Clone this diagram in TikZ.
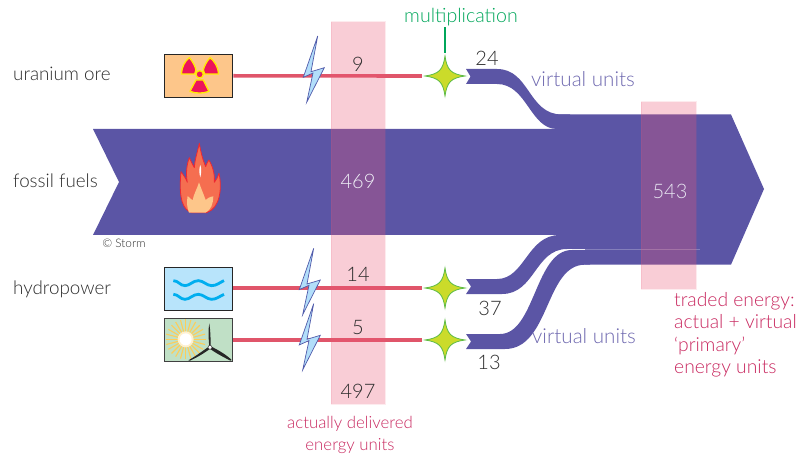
\documentclass[tikz,border=0pt]{standalone}
\usepackage{fontspec}
\setmainfont{Lato}[UprightFont=* Light]
\usetikzlibrary{calc}
\definecolor{flow}{RGB}{91,85,165}
\definecolor{colpink}{RGB}{235,88,118}
\definecolor{redline}{RGB}{224,85,106}
\definecolor{crim}{RGB}{200,40,95}
\definecolor{virt}{RGB}{110,104,175}
\definecolor{txt}{RGB}{45,45,45}
\definecolor{multgreen}{RGB}{0,166,90}
\definecolor{starfill}{RGB}{203,219,42}
\definecolor{starline}{RGB}{93,187,70}
\definecolor{boltfill}{RGB}{178,222,250}
\definecolor{boltline}{RGB}{80,90,170}
\definecolor{radbg}{RGB}{253,198,138}
\definecolor{radred}{RGB}{237,20,91}
\definecolor{radyel}{RGB}{255,236,0}
\definecolor{waterbg}{RGB}{184,228,251}
\definecolor{waterln}{RGB}{0,174,239}
\definecolor{windbg}{RGB}{192,224,198}
\definecolor{sunray}{RGB}{253,205,90}
\definecolor{flamecolor}{RGB}{245,110,80}
\definecolor{flameline}{RGB}{237,40,50}
\tikzset{
 lab/.style={font=\fontsize{18.8}{22}\selectfont,text=txt,inner sep=0pt},
 num/.style={font=\fontsize{20}{22}\selectfont,text=txt,inner sep=0pt},
 virtlab/.style={font=\fontsize{20.6}{23}\selectfont,text=virt,inner sep=0pt},
 crimlab/.style={font=\fontsize{16.8}{22}\selectfont,text=crim,inner sep=0pt},
 crimright/.style={font=\fontsize{19.3}{22.4}\selectfont,text=crim,inner sep=0pt},
 iconbox/.style={draw=black!85,line width=1.2pt,minimum width=68pt,minimum height=43pt,inner sep=0pt},
 anchorstar/.style={circle,minimum size=46pt,inner sep=0pt},
 feed/.style={draw=redline,line width=3.6pt},
 column/.style={fill=colpink,fill opacity=.3,draw=colpink,draw opacity=.12,line width=1pt},
 fourstar/.pic={\filldraw[fill=starfill,draw=starline,line width=.8pt]
   (0,-20) .. controls (2,-6) and (6,-2) .. (20,0)
   .. controls (6,2) and (2,6) .. (0,20)
   .. controls (-2,6) and (-6,2) .. (-20,0)
   .. controls (-6,-2) and (-2,-6) .. (0,-20) -- cycle;},
 boltshape/.pic={\filldraw[fill=boltfill,draw=boltline,line width=.7pt,line join=miter]
   (0,0) -- (-14.4,41.3) -- (-4.7,37) -- (-11,66.3) -- (6.6,31.7) -- (-6.7,35.7) -- cycle;},
}
\begin{document}
\begin{tikzpicture}[x=1pt,y=-1pt]
\useasboundingbox (0,0) rectangle (798,457);
% flows
\fill[flow] (93,129) -- (600,129) -- (600,235) -- (93,235) -- (119,182) -- cycle;
\fill[flow] (555,114.5) -- (731,114.5) -- (764,189) -- (731,264.7) -- (585,264.7) -- (585,235) -- (555,235) -- cycle;
\fill[flow] (466,69) -- (497,69) .. controls (530,69) and (528,114.5) .. (562,114.5) -- (570,114.5) -- (570,129)
   -- (557,129) .. controls (530,129) and (527,84) .. (497,84) -- (466,84) -- (470.5,76.5) -- cycle;
\fill[flow] (466,279) -- (497,279) .. controls (525,279) and (527,235) .. (560,235) -- (590,235) -- (590,249)
   -- (567,249) .. controls (535,249) and (535,294) .. (502,294) -- (466,294) -- (471,286.5) -- cycle;
\fill[flow] (466,334) -- (500,334) .. controls (535,334) and (535,250) .. (572,250) -- (590,250) -- (590,264.7)
   -- (585,264.7) .. controls (545,264.7) and (550,349) .. (505,349) -- (466,349) -- (471,341.5) -- cycle;
\draw[white,opacity=.25,line width=.7pt] (568,249.5) -- (700,249.5);
% icons
\node[iconbox,fill=radbg] (ura) at (198.7,75.8) {};
\node[iconbox,fill=waterbg] (hyd) at (198.7,289) {};
\node[iconbox,fill=windbg,draw=black!75] (win) at (198.7,339.7) {};
% multipliers
\node[anchorstar] (s1) at (445,76) {};
\node[anchorstar] (s2) at (445,288) {};
\node[anchorstar] (s3) at (445,340) {};
% feed lines
\draw[feed] (ura.east) -- (s1.west);
\draw[feed] (hyd.east |- s2) -- (s2.west);
\draw[feed] (win.east |- s3) -- (s3.west);
\pic at (s1) {fourstar};
\pic at (s2) {fourstar};
\pic at (s3) {fourstar};
% bolts
\pic at (317.7,36) {boltshape};
\pic at (313.7,248.3) {boltshape};
\pic at (313.7,303.6) {boltshape};
% radiation symbol
\begin{scope}[shift={(150,20)},x=.3333pt,y=-.3333pt]
 \begin{scope}[fill=radred,draw=radyel,line width=1.3pt,line join=round]
 \filldraw (94,162) .. controls (96,140) and (104,124) .. (118,113)
    .. controls (128,124) and (136,140) .. (138,150) -- (134,162) -- cycle;
 \filldraw (206,162) .. controls (204,140) and (194,124) .. (180,113)
    .. controls (170,124) and (162,140) .. (160,150) -- (164,162) -- cycle;
 \filldraw (120,214) .. controls (138,221) and (158,221) .. (177,214) -- (160,180) -- (138,180) -- cycle;
 \filldraw (149,163) circle[radius=11];
 \end{scope}
\end{scope}
% waves
\begin{scope}[shift={(150,240)},x=.3333pt,y=-.3333pt]
 \foreach \dy in {0,41}{
 \draw[waterln,line width=2.8pt,shift={(0,\dy)}] (70,122) .. controls (85,122) and (90,137) .. (105,137)
   .. controls (120,137) and (128,122) .. (145,122)
   .. controls (160,122) and (170,137) .. (185,137)
   .. controls (200,137) and (210,127) .. (222,122);}
 % wind and sun
 \foreach \a in {0,15,...,345}{
   \draw[sunray,line width=1.1pt] (107,298) ++(\a:14) -- ++(\a:46);}
 \fill[white!70!sunray] (107,298) circle[radius=24];
 \fill[white] (107,298) circle[radius=18];
 \fill[black!85] (178,322) .. controls (175,290) and (175,265) .. (178,250) .. controls (181,270) and (182,295) .. (182,322) -- cycle;
 \fill[black!85] (178,319) .. controls (155,335) and (135,350) .. (115,361) -- (120,362) .. controls (142,352) and (165,338) .. (182,325) -- cycle;
 \fill[black!85] (182,319) .. controls (205,330) and (230,345) .. (245,360) -- (241,362) .. controls (218,350) and (195,338) .. (178,325) -- cycle;
 \filldraw[fill=white,draw=black!80,line width=.5pt] (180,322) circle[radius=6];
\end{scope}
% flame
\begin{scope}[shift={(85,125)},x=.3333pt,y=-.3333pt]
 \filldraw[fill=flamecolor,draw=flameline,line width=.8pt,line join=round]
  (320,263) .. controls (295,255) and (280,225) .. (288,140)
  .. controls (295,150) and (303,160) .. (307,172)
  .. controls (302,145) and (305,120) .. (313,98)
  .. controls (318,110) and (323,118) .. (328,128)
  .. controls (330,100) and (338,80) .. (343,55)
  .. controls (347,80) and (352,100) .. (362,125)
  .. controls (365,115) and (368,110) .. (372,105)
  .. controls (380,120) and (390,140) .. (388,172)
  .. controls (395,165) and (398,155) .. (402,145)
  .. controls (412,190) and (405,250) .. (365,263) -- cycle;
 \fill[radbg] (312,263) .. controls (305,245) and (305,230) .. (308,213)
  .. controls (313,218) and (318,222) .. (323,226)
  .. controls (325,210) and (335,195) .. (342,172)
  .. controls (348,190) and (355,205) .. (362,225)
  .. controls (368,220) and (372,216) .. (385,214)
  .. controls (385,235) and (378,255) .. (362,263) -- cycle;
 \fill[white] (346,120) .. controls (350,130) and (349,145) .. (346,157) .. controls (342,145) and (342,130) .. (346,120) -- cycle;
\end{scope}
% columns
\fill[column,draw] (331,22) rectangle (385,404);
\fill[column,draw] (641,102) rectangle (696,289);
% labels
\node[lab,anchor=west] (l1) at (13,74) {uranium ore};
\node[lab,anchor=west] (l2) at (13,181) {fossil fuels};
\node[lab,anchor=west] (l3) at (13,289) {hydropower};
\node[num] (n9) at (358,64) {9};
\node[num,text=white!90!flow] (n469) at (358,181) {469};
\node[num] (n14) at (358,274) {14};
\node[num] (n5) at (358,328) {5};
\node[num] (n497) at (358,391) {497};
\node[num] (n24) at (487,58) {24};
\node[num] (n37) at (490,308) {37};
\node[num] (n13) at (489,362) {13};
\node[num,text=white!85!flow] (n543) at (670,191) {543};
\node[virtlab] (v1) at (583,79) {virtual units};
\node[virtlab] (v2) at (584,336) {virtual units};
\node[font=\fontsize{19.6}{22}\selectfont,text=multgreen,inner sep=0pt] (mult) at (461,17) {multiplication};
\draw[multgreen,line width=1.2pt] (s1.north |- mult.south) ++(0,1) -- (s1.north);
\node[crimlab,align=center] (adeu) at (350,435) {actually delivered\\energy units};
\node[crimright,align=left,anchor=north west] (ted) at (674,292) {traded energy:\\actual + virtual\\‘primary’\\energy units};
\node[font=\fontsize{11.8}{13}\selectfont,text=txt,inner sep=0pt] (cr) at (124,243) {© Storm};
\end{tikzpicture}
\end{document}
